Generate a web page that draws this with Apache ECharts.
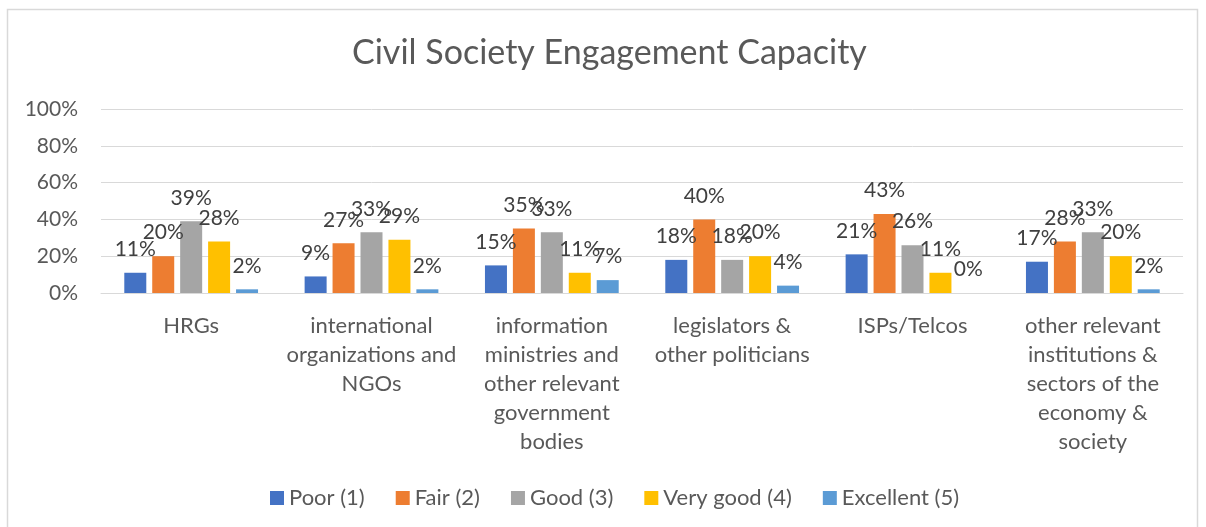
<!DOCTYPE html>
<html>
<head>
<meta charset="utf-8">
<title>Civil Society Engagement Capacity</title>
<script src="https://cdn.jsdelivr.net/npm/echarts@6/dist/echarts.min.js"></script>
<style>
  html, body { margin: 0; padding: 0; background: #fff; }
  #chart { width: 1206px; height: 527px; }
</style>
</head>
<body>
<div id="chart"></div>
<script>
// Groups being rated
const categories = [
  'HRGs',
  'international\norganizations and\nNGOs',
  'information\nministries and\nother relevant\ngovernment\nbodies',
  'legislators &\nother politicians',
  'ISPs/Telcos',
  'other relevant\ninstitutions &\nsectors of the\neconomy &\nsociety'
];

// Share of answers per rating (%)
const poor      = [11,  9, 15, 18, 21, 17];
const fair      = [20, 27, 35, 40, 43, 28];
const good      = [39, 33, 33, 18, 26, 33];
const veryGood  = [28, 29, 11, 20, 11, 20];
const excellent = [ 2,  2,  7,  4,  0,  2];

const seriesNames = ['Poor (1)', 'Fair (2)', 'Good (3)', 'Very good (4)', 'Excellent (5)'];
const seriesData = [poor, fair, good, veryGood, excellent];
const colors = ['#4472C4', '#ED7D31', '#A5A5A5', '#FFC000', '#5B9BD5'];

const yTicks = [0, 20, 40, 60, 80, 100];

const FONT = 'Lato, "Open Sans", sans-serif';

const chart = echarts.init(document.getElementById('chart'), null, { renderer: 'canvas' });

chart.setOption({
  animation: false,
  backgroundColor: '#ffffff',
  color: colors,
  textStyle: { fontFamily: FONT },
  graphic: [{
    type: 'rect',
    silent: true,
    z: -1,
    shape: { x: 7.5, y: 9.5, width: 1190, height: 540 },
    style: { fill: 'none', stroke: '#d9d9d9', lineWidth: 1.5 }
  }],
  title: {
    text: 'Civil Society Engagement Capacity',
    left: 347,
    top: 31,
    textStyle: { fontFamily: FONT, fontSize: 34, fontWeight: 'normal', color: '#595959' }
  },
  legend: {
    left: 265,
    top: 482,
    itemWidth: 14,
    itemHeight: 14,
    itemGap: 31,
    icon: 'rect',
    textStyle: { fontFamily: FONT, fontSize: 22, color: '#595959' },
    data: seriesNames
  },
  grid: { left: 101, right: 23, top: 109, bottom: 234, containLabel: false },
  xAxis: {
    type: 'category',
    data: categories,
    axisLine: { lineStyle: { color: '#d9d9d9', width: 1 } },
    axisTick: { show: false },
    axisLabel: {
      interval: 0,
      margin: 18,
      fontFamily: FONT,
      fontSize: 22,
      lineHeight: 29,
      color: '#595959',
      align: 'center'
    }
  },
  yAxis: {
    type: 'value',
    min: yTicks[0],
    max: yTicks[yTicks.length - 1],
    interval: 20,
    axisLine: { show: false },
    axisTick: { show: false },
    splitLine: { lineStyle: { color: '#d9d9d9', width: 1 } },
    axisLabel: {
      margin: 23,
      fontFamily: FONT,
      fontSize: 21,
      color: '#595959',
      formatter: v => v + '%'
    }
  },
  series: seriesNames.map((name, i) => ({
    name,
    type: 'bar',
    data: seriesData[i],
    barWidth: 22,
    barGap: '27%',
    label: {
      show: true,
      position: 'top',
      distance: 13,
      fontFamily: FONT,
      fontSize: 21,
      color: '#404040',
      formatter: p => p.value + '%'
    }
  }))
});
</script>
</body>
</html>
